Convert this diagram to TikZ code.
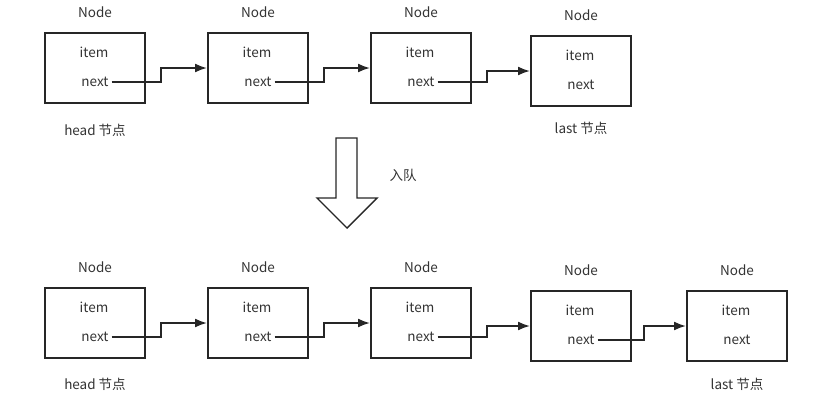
\documentclass[tikz,border=0pt]{standalone}
\usepackage{fontspec}
\setmainfont{Noto Sans CJK SC}
\usepackage{tikz}
\usetikzlibrary{arrows.meta,positioning}
\tikzset{
  nodebox/.style={draw=black!85, line width=2pt, minimum width=100pt, minimum height=70pt, inner sep=0pt},
  txt/.style={text=black!80, font=\fontsize{13.5}{15}\selectfont, inner sep=3pt},
  link/.style={-{Latex[length=12pt,width=9pt]}, line width=1.8pt, draw=black!85},
  bigarrow/.style={draw=black!85, line width=1.4pt, fill=white, line join=miter}
}

\begin{document}
\begin{tikzpicture}[x=1pt, y=-1pt, node distance=20pt]
    \useasboundingbox (0,0) rectangle (816,400);
    % before
    \node[nodebox] (a1) at (95,68) {};
    \node[nodebox] (a2) at (258,68) {};
    \node[nodebox] (a3) at (421,68) {};
    \node[nodebox] (a4) at (581,71) {};
    \foreach \b in {a1,a2,a3,a4} {
      \node[txt] (\b t) at ([yshift=20]\b.north) {Node};
      \node[txt] (\b i) at ([xshift=-1,yshift=16]\b.center) {item};
      \node[txt] (\b n) at ([yshift=-14]\b.center) {next};
    }
    \node[txt] (ahead) at ([yshift=-26]a1.south) {head 节点};
    \node[txt] (alast) at ([yshift=-21]a4.south) {last 节点};
    \draw[link] (a1n.east) -- ([xshift=15]a1.east |- a1n.east) |- (a2.west);
    \draw[link] (a2n.east) -- ([xshift=15]a2.east |- a2n.east) |- (a3.west);
    \draw[link] (a3n.east) -- ([xshift=15]a3.east |- a3n.east) |- (a4.west);

    % enqueue
    \draw[bigarrow] (336,138) -- (357,138) -- (357,198) -- (377,198) -- (347,228) -- (317,198) -- (336,198) -- cycle;
    \node[txt] (enq) at (403,175) {入队};

    % after
    \node[nodebox] (b1) at (95,323) {};
    \node[nodebox] (b2) at (258,323) {};
    \node[nodebox] (b3) at (421,323) {};
    \node[nodebox] (b4) at (581,326) {};
    \node[nodebox] (b5) at (737,326) {};
    \foreach \b in {b1,b2,b3,b4,b5} {
      \node[txt] (\b t) at ([yshift=20]\b.north) {Node};
      \node[txt] (\b i) at ([xshift=-1,yshift=16]\b.center) {item};
      \node[txt] (\b n) at ([yshift=-14]\b.center) {next};
    }
    \node[txt] (bhead) at ([yshift=-25]b1.south) {head 节点};
    \node[txt] (blast) at ([yshift=-22]b5.south) {last 节点};
    \draw[link] (b1n.east) -- ([xshift=15]b1.east |- b1n.east) |- (b2.west);
    \draw[link] (b2n.east) -- ([xshift=15]b2.east |- b2n.east) |- (b3.west);
    \draw[link] (b3n.east) -- ([xshift=15]b3.east |- b3n.east) |- (b4.west);
    \draw[link] (b4n.east) -- ([xshift=12]b4.east |- b4n.east) |- (b5.west);
  \end{tikzpicture}
\end{document}
